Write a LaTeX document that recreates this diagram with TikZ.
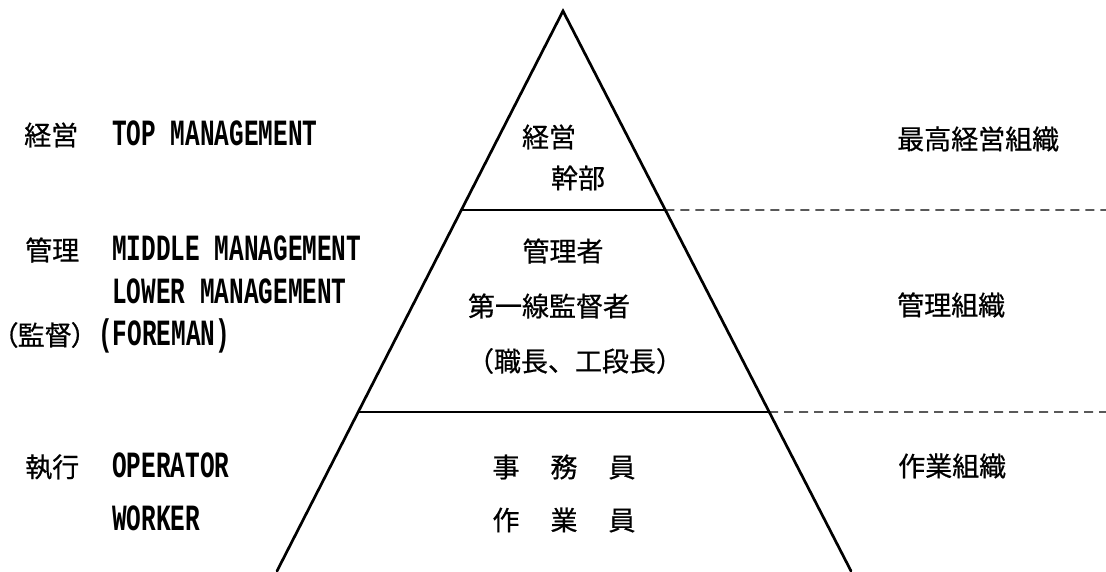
\documentclass[tikz,border=0pt]{standalone}
\usepackage{fontspec}
\newfontfamily\cjk[FakeBold=0.6]{Noto Sans CJK JP}
\newfontfamily\cjkp[FakeBold=0.6,RawFeature=+palt]{Noto Sans CJK JP}
\newfontfamily\eng[FakeStretch=0.66]{Liberation Mono}
\usetikzlibrary{calc}
\tikzset{
  edge/.style={line width=2.7pt, line cap=round},
  level/.style={line width=2.4pt},
  ext/.style={line width=1.4pt, dash pattern=on 9pt off 6pt},
  jp/.style={inner sep=0pt, font=\cjk\fontsize{27}{27}\selectfont},
  jpp/.style={inner sep=0pt, font=\cjkp\fontsize{27}{27}\selectfont},
  en/.style={inner sep=0pt, anchor=base west, font=\eng\bfseries\fontsize{37}{37}\selectfont},
}
\begin{document}
\begin{tikzpicture}[x=1pt, y=-1pt]
\useasboundingbox (0,0) rectangle (1106,571);
\fill[white] (0,0) rectangle (1106,571);
% pyramid
\coordinate (apex) at (563,11);
\coordinate (bl) at (277,571);
\coordinate (br) at (851,571);
\draw[edge] (bl) -- (apex) -- (br);
\coordinate (l1) at ($(apex)!0.35536!(bl)$);
\coordinate (r1) at ($(apex)!0.35536!(br)$);
\coordinate (l2) at ($(apex)!0.71607!(bl)$);
\coordinate (r2) at ($(apex)!0.71607!(br)$);
\coordinate (e1) at (1106,210);
\coordinate (e2) at (1106,412);
\draw[level] (l1) -- (r1);
\draw[level] (l2) -- (r2);
\draw[ext] (r1) -- (e1);
\draw[ext] (r2) -- (e2);
% left column
\node[jp, anchor=west] (k1) at (24,135) {経営};
\node[en] (t1) at (112,145) {TOP MANAGEMENT};
\node[jp, anchor=west] (k2) at (25,250) {管理};
\node[en] (t2) at (112,260) {MIDDLE MANAGEMENT};
\node[en] (t3) at (112,303) {LOWER MANAGEMENT};
\node[jpp, anchor=west] (k3) at (4,335) {（監督）};
\node[en] (t4) at (98,345) {(FOREMAN)};
\node[jp, anchor=west] (k4) at (25,467) {執行};
\node[en] (t5) at (112,477) {OPERATOR};
\node[en] (t6) at (112,530) {WORKER};
% middle column
\node[jp] (m1) at (549,137) {経営};
\node[jp] (m2) at (578,178) {幹部};
\node[jp] (m3) at (563,251) {管理者};
\node[jp] (m4) at (549,306) {第一線監督者};
\node[jp] (m5) at (575,361) {（職長、工段長）};
\node[jp] (m6) at (564,467) {事\kern31pt 務\kern31pt 員};
\node[jp] (m7) at (564,520) {作\kern31pt 業\kern31pt 員};
% right column
\node[jp, anchor=west] (r1t) at (897,139) {最高経営組織};
\node[jp, anchor=west] (r2t) at (897,305) {管理組織};
\node[jp, anchor=west] (r3t) at (898,466) {作業組織};
\end{tikzpicture}
\end{document}
